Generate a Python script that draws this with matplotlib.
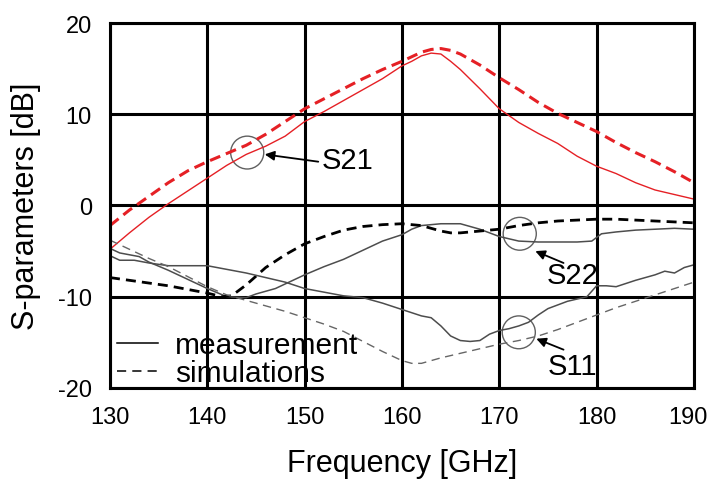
import matplotlib
matplotlib.use('Agg')
import matplotlib.pyplot as plt
from matplotlib.lines import Line2D
from matplotlib.patches import Ellipse
from matplotlib.transforms import ScaledTranslation

# 字体设置（Arial 风格）
plt.rcParams['font.family'] = ['Liberation Sans', 'DejaVu Sans']
plt.rcParams['axes.unicode_minus'] = False

# ---- 数据 ----
s21_meas_f = [130, 132, 134, 136, 138, 140, 142, 144, 146, 148, 150, 152, 154, 156, 158,
              160, 161, 162, 163, 164, 165, 166, 168, 170, 172, 174, 176, 178, 180, 182,
              184, 186, 188, 190]
s21_meas = [-4.8, -3.0, -1.3, 0.2, 1.6, 3.0, 4.4, 5.6, 6.5, 7.6, 9.2, 10.3, 11.5, 12.7, 13.9,
            15.3, 15.8, 16.4, 16.7, 16.6, 15.8, 14.9, 12.8, 10.6, 9.1, 7.9, 6.8, 5.4, 4.3, 3.5,
            2.5, 1.7, 1.2, 0.7]

s21_sim_f = [130, 132, 134, 136, 138, 140, 142, 144, 146, 148, 150, 152, 154, 156, 158,
             160, 162, 163, 164, 165, 166, 168, 170, 172, 174, 176, 178, 180, 182, 184,
             186, 188, 190]
s21_sim = [-2.2, -0.5, 1.0, 2.5, 3.8, 4.8, 5.7, 6.6, 7.8, 9.2, 10.6, 11.7, 12.8, 13.9, 14.9,
           15.8, 16.8, 17.1, 17.2, 17.0, 16.6, 15.4, 14.0, 12.7, 11.3, 10.1, 9.1, 8.1, 6.9, 5.8,
           4.8, 3.7, 2.5]

s22_meas_f = [130, 131, 132, 133, 134, 136, 138, 140, 142, 144, 145, 146, 147, 148, 150,
              152, 154, 156, 158, 160, 161, 162, 164, 166, 168, 170, 172, 174, 176, 178,
              179.5, 180.5, 182, 184, 186, 188, 190]
s22_meas = [-4.7, -5.2, -5.4, -5.6, -6.2, -7.1, -8.1, -9.1, -10.0, -10.1, -9.7, -9.4, -9.1, -8.6, -7.6,
            -6.7, -5.9, -4.9, -3.9, -3.2, -2.6, -2.2, -2.0, -2.0, -2.6, -3.4, -3.9, -4.0, -4.0, -4.0,
            -3.9, -3.1, -2.9, -2.7, -2.6, -2.5, -2.6]

s22_sim_f = [130, 132, 134, 136, 138, 140, 141.5, 142.5, 144, 146, 148, 150, 152, 154, 156,
             158, 160, 162, 164, 165, 166, 168, 170, 172, 174, 176, 178, 180, 182, 184,
             186, 188, 190]
s22_sim = [-7.9, -8.2, -8.5, -8.8, -9.2, -9.6, -10.0, -9.9, -8.7, -6.8, -5.4, -4.2, -3.4, -2.7, -2.3,
           -2.1, -2.0, -2.2, -2.8, -3.0, -3.0, -2.8, -2.6, -2.2, -1.9, -1.7, -1.6, -1.5, -1.5, -1.6,
           -1.7, -1.8, -1.9]

s11_meas_f = [130, 131, 132.5, 134, 136, 138, 140, 142, 144, 146, 148, 150, 152, 154, 156,
              158, 160, 162, 163, 164, 165, 166, 167, 168, 169, 170, 171, 172, 173, 174,
              175, 177, 179, 180, 181, 182, 184, 186, 187, 188, 189, 190]
s11_meas = [-5.5, -6.0, -6.0, -6.3, -6.6, -6.6, -6.6, -7.0, -7.4, -7.9, -8.4, -9.1, -9.5, -9.9, -10.1,
            -10.7, -11.4, -12.1, -12.3, -13.2, -14.3, -14.8, -14.9, -14.8, -14.1, -13.7, -13.5, -13.2, -12.8, -12.0,
            -11.3, -10.5, -10.0, -8.8, -8.8, -8.9, -8.2, -7.6, -7.2, -7.4, -6.8, -6.5]

s11_sim_f = [130, 132, 134, 136, 138, 140, 142, 144, 146, 148, 150, 152, 154, 156, 158,
             160, 161, 162, 163, 164, 166, 168, 170, 172, 174, 176, 178, 180, 182, 184,
             186, 188, 190]
s11_sim = [-3.8, -4.8, -5.8, -6.7, -7.8, -8.9, -9.8, -10.4, -11.0, -11.6, -12.3, -13.0, -13.8, -14.9, -16.0,
           -17.0, -17.3, -17.3, -17.0, -16.7, -16.2, -15.7, -15.2, -14.8, -14.3, -13.6, -12.8, -12.0, -11.2, -10.5,
           -9.8, -9.1, -8.4]

# 标注：名称、圆心、箭头头/尾、文字位置
labels = ['S21', 'S22', 'S11']
circle_xy = [(144.1, 5.8), (172.1, -3.1), (172.0, -13.9)]
arrow_head = [(145.9, 5.6), (173.7, -5.0), (173.8, -14.6)]
arrow_tail = [(151.4, 4.8), (176.6, -6.3), (176.6, -15.8)]
text_xy = [(151.8, 5.0), (174.9, -7.6), (175.0, -17.6)]


def plot_sparams():
    fig = plt.figure(figsize=(7.09, 4.81), dpi=100)
    ax = fig.add_axes([0.1551, 0.1913, 0.8237, 0.7588])

    red = '#e52025'
    gray = '#4d4d4d'

    # 测量 / 仿真曲线
    ax.plot(s21_meas_f, s21_meas, color=red, lw=1.0)
    ax.plot(s21_sim_f, s21_sim, color=red, lw=2.2, ls=(0, (3.6, 2.0)))
    ax.plot(s22_meas_f, s22_meas, color=gray, lw=1.1)
    ax.plot(s22_sim_f, s22_sim, color='black', lw=2.0, ls=(0, (3.6, 2.2)))
    ax.plot(s11_meas_f, s11_meas, color=gray, lw=1.1)
    ax.plot(s11_sim_f, s11_sim, color='#666666', lw=1.0, ls=(0, (6, 4)))

    ax.set_xlim(130, 190)
    ax.set_ylim(-20, 20)
    ax.set_xticks(range(130, 191, 10))
    ax.set_yticks(range(-20, 21, 10))
    ax.grid(True, color='black', lw=2.2)
    ax.set_axisbelow(True)
    for sp in ax.spines.values():
        sp.set_linewidth(2.2)
    ax.tick_params(length=0, labelsize=17, pad=13)

    # 最右边的刻度标签稍微左移，避免被裁掉
    fig.canvas.draw()
    last = ax.get_xticklabels()[-1]
    last.set_transform(last.get_transform() + ScaledTranslation(-0.06, 0, fig.dpi_scale_trans))

    ax.set_xlabel('Frequency [GHz]', fontsize=22)
    ax.set_ylabel('S-parameters [dB]', fontsize=22)
    ax.xaxis.set_label_coords(0.5, -0.165)
    ax.yaxis.set_label_coords(-0.118, 0.5)

    # 圆圈 + 箭头标注
    for name, c, h, tl, t in zip(labels, circle_xy, arrow_head, arrow_tail, text_xy):
        ax.add_patch(Ellipse(c, width=3.4, height=3.6, fill=False, ec='#606060', lw=1.0))
        ax.annotate('', xy=h, xytext=tl,
                    arrowprops=dict(arrowstyle='-|>', color='black', lw=1.3,
                                    mutation_scale=14, shrinkA=0, shrinkB=0))
        ax.text(t[0], t[1], name, fontsize=21, ha='left', va='center')

    handles = [Line2D([], [], color='black', lw=1.1),
               Line2D([], [], color='black', lw=1.1, ls=(0, (6, 4)))]
    ax.legend(handles, ['measurement', 'simulations'], loc='lower left',
              bbox_to_anchor=(-0.008, -0.03), frameon=False, fontsize=21.5,
              handlelength=1.35, handletextpad=0.6, labelspacing=0.0,
              borderaxespad=0.2, borderpad=0.2)

    fig.savefig('out.png', dpi=100)


def main():
    plot_sparams()


if __name__ == "__main__":
    main()
